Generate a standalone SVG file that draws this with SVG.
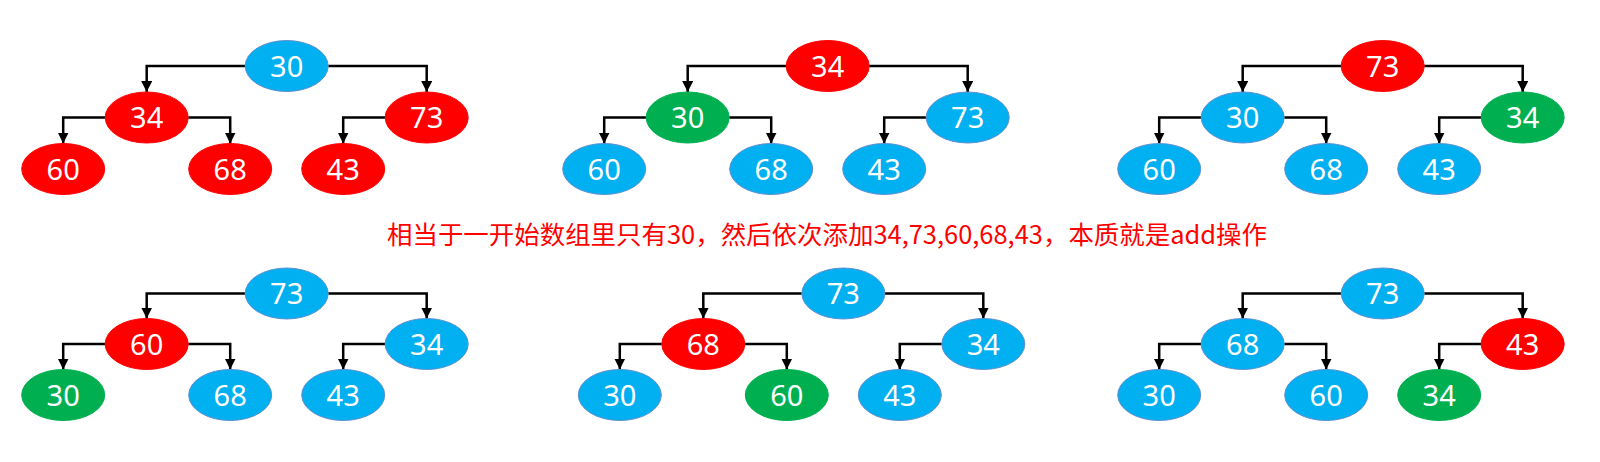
<svg xmlns="http://www.w3.org/2000/svg" width="1600" height="462" viewBox="0 0 1600 462">
<style>
.n ellipse{stroke-width:1}
.blue ellipse{fill:#00B0F0;stroke:#5B8FD0}
.red ellipse{fill:#FF0000;stroke:#FF0000}
.green ellipse{fill:#00B050;stroke:#00B050}
.n text{fill:#FFFFFF;font-family:"Noto Sans","Open Sans","DejaVu Sans",sans-serif;font-size:29px;text-anchor:middle}
.c path{fill:none;stroke:#000000;stroke-width:2.5;marker-end:url(#arr)}
.cap{fill:#FF0000;font-family:"Noto Sans CJK SC","Noto Sans",sans-serif;font-size:25px}
</style>
<defs>
<marker id="arr" markerUnits="userSpaceOnUse" markerWidth="11" markerHeight="11" viewBox="0 0 11 11" refX="11" refY="5.5" orient="auto">
<path d="M0,0 L11,5.5 L0,11 Z" fill="#000000"/>
</marker>
</defs>
<rect width="1600" height="462" fill="#FFFFFF"/>
<g id="connectors" class="c">
<path d="M245.2 66 H146.7 V92"/>
<path d="M328.2 66 H426.7 V92"/>
<path d="M105.2 117.5 H63.2 V143.5"/>
<path d="M188.2 117.5 H230.2 V143.5"/>
<path d="M385.2 117.5 H343.2 V143.5"/>
<path d="M786.2 66 H687.7 V92"/>
<path d="M869.2 66 H967.7 V92"/>
<path d="M646.2 117.5 H604.2 V143.5"/>
<path d="M729.2 117.5 H771.2 V143.5"/>
<path d="M926.2 117.5 H884.2 V143.5"/>
<path d="M1341.2 66 H1242.7 V92"/>
<path d="M1424.2 66 H1522.7 V92"/>
<path d="M1201.2 117.5 H1159.2 V143.5"/>
<path d="M1284.2 117.5 H1326.2 V143.5"/>
<path d="M1481.2 117.5 H1439.2 V143.5"/>
<path d="M245.2 293.5 H146.7 V318.5"/>
<path d="M328.2 293.5 H426.7 V318.5"/>
<path d="M105.2 344 H63.2 V369.5"/>
<path d="M188.2 344 H230.2 V369.5"/>
<path d="M385.2 344 H343.2 V369.5"/>
<path d="M801.8 293.5 H703.3 V318.5"/>
<path d="M884.8 293.5 H983.3 V318.5"/>
<path d="M661.8 344 H619.8 V369.5"/>
<path d="M744.8 344 H786.8 V369.5"/>
<path d="M941.8 344 H899.8 V369.5"/>
<path d="M1341.2 293.5 H1242.7 V318.5"/>
<path d="M1424.2 293.5 H1522.7 V318.5"/>
<path d="M1201.2 344 H1159.2 V369.5"/>
<path d="M1284.2 344 H1326.2 V369.5"/>
<path d="M1481.2 344 H1439.2 V369.5"/>
</g>
<!-- Tree 1 -->
<g id="t1-root" class="n blue"><ellipse cx="286.7" cy="66" rx="41.5" ry="25.5"/><text x="286.7" y="76.5">30</text></g>
<g id="t1-l" class="n red"><ellipse cx="146.7" cy="117.5" rx="41.5" ry="25.5"/><text x="146.7" y="128">34</text></g>
<g id="t1-r" class="n red"><ellipse cx="426.7" cy="117.5" rx="41.5" ry="25.5"/><text x="426.7" y="128">73</text></g>
<g id="t1-ll" class="n red"><ellipse cx="63.2" cy="169" rx="41.5" ry="25.5"/><text x="63.2" y="179.5">60</text></g>
<g id="t1-lr" class="n red"><ellipse cx="230.2" cy="169" rx="41.5" ry="25.5"/><text x="230.2" y="179.5">68</text></g>
<g id="t1-rl" class="n red"><ellipse cx="343.2" cy="169" rx="41.5" ry="25.5"/><text x="343.2" y="179.5">43</text></g>
<!-- Tree 2 -->
<g id="t2-root" class="n red"><ellipse cx="827.7" cy="66" rx="41.5" ry="25.5"/><text x="827.7" y="76.5">34</text></g>
<g id="t2-l" class="n green"><ellipse cx="687.7" cy="117.5" rx="41.5" ry="25.5"/><text x="687.7" y="128">30</text></g>
<g id="t2-r" class="n blue"><ellipse cx="967.7" cy="117.5" rx="41.5" ry="25.5"/><text x="967.7" y="128">73</text></g>
<g id="t2-ll" class="n blue"><ellipse cx="604.2" cy="169" rx="41.5" ry="25.5"/><text x="604.2" y="179.5">60</text></g>
<g id="t2-lr" class="n blue"><ellipse cx="771.2" cy="169" rx="41.5" ry="25.5"/><text x="771.2" y="179.5">68</text></g>
<g id="t2-rl" class="n blue"><ellipse cx="884.2" cy="169" rx="41.5" ry="25.5"/><text x="884.2" y="179.5">43</text></g>
<!-- Tree 3 -->
<g id="t3-root" class="n red"><ellipse cx="1382.7" cy="66" rx="41.5" ry="25.5"/><text x="1382.7" y="76.5">73</text></g>
<g id="t3-l" class="n blue"><ellipse cx="1242.7" cy="117.5" rx="41.5" ry="25.5"/><text x="1242.7" y="128">30</text></g>
<g id="t3-r" class="n green"><ellipse cx="1522.7" cy="117.5" rx="41.5" ry="25.5"/><text x="1522.7" y="128">34</text></g>
<g id="t3-ll" class="n blue"><ellipse cx="1159.2" cy="169" rx="41.5" ry="25.5"/><text x="1159.2" y="179.5">60</text></g>
<g id="t3-lr" class="n blue"><ellipse cx="1326.2" cy="169" rx="41.5" ry="25.5"/><text x="1326.2" y="179.5">68</text></g>
<g id="t3-rl" class="n blue"><ellipse cx="1439.2" cy="169" rx="41.5" ry="25.5"/><text x="1439.2" y="179.5">43</text></g>
<!-- Caption -->
<text class="cap" x="387" y="244" textLength="880" lengthAdjust="spacingAndGlyphs">相当于一开始数组里只有30，然后依次添加34,73,60,68,43，本质就是add操作</text>
<!-- Tree 4 -->
<g id="t4-root" class="n blue"><ellipse cx="286.7" cy="293.5" rx="41.5" ry="25.5"/><text x="286.7" y="304">73</text></g>
<g id="t4-l" class="n red"><ellipse cx="146.7" cy="344" rx="41.5" ry="25.5"/><text x="146.7" y="354.5">60</text></g>
<g id="t4-r" class="n blue"><ellipse cx="426.7" cy="344" rx="41.5" ry="25.5"/><text x="426.7" y="354.5">34</text></g>
<g id="t4-ll" class="n green"><ellipse cx="63.2" cy="395" rx="41.5" ry="25.5"/><text x="63.2" y="405.5">30</text></g>
<g id="t4-lr" class="n blue"><ellipse cx="230.2" cy="395" rx="41.5" ry="25.5"/><text x="230.2" y="405.5">68</text></g>
<g id="t4-rl" class="n blue"><ellipse cx="343.2" cy="395" rx="41.5" ry="25.5"/><text x="343.2" y="405.5">43</text></g>
<!-- Tree 5 -->
<g id="t5-root" class="n blue"><ellipse cx="843.3" cy="293.5" rx="41.5" ry="25.5"/><text x="843.3" y="304">73</text></g>
<g id="t5-l" class="n red"><ellipse cx="703.3" cy="344" rx="41.5" ry="25.5"/><text x="703.3" y="354.5">68</text></g>
<g id="t5-r" class="n blue"><ellipse cx="983.3" cy="344" rx="41.5" ry="25.5"/><text x="983.3" y="354.5">34</text></g>
<g id="t5-ll" class="n blue"><ellipse cx="619.8" cy="395" rx="41.5" ry="25.5"/><text x="619.8" y="405.5">30</text></g>
<g id="t5-lr" class="n green"><ellipse cx="786.8" cy="395" rx="41.5" ry="25.5"/><text x="786.8" y="405.5">60</text></g>
<g id="t5-rl" class="n blue"><ellipse cx="899.8" cy="395" rx="41.5" ry="25.5"/><text x="899.8" y="405.5">43</text></g>
<!-- Tree 6 -->
<g id="t6-root" class="n blue"><ellipse cx="1382.7" cy="293.5" rx="41.5" ry="25.5"/><text x="1382.7" y="304">73</text></g>
<g id="t6-l" class="n blue"><ellipse cx="1242.7" cy="344" rx="41.5" ry="25.5"/><text x="1242.7" y="354.5">68</text></g>
<g id="t6-r" class="n red"><ellipse cx="1522.7" cy="344" rx="41.5" ry="25.5"/><text x="1522.7" y="354.5">43</text></g>
<g id="t6-ll" class="n blue"><ellipse cx="1159.2" cy="395" rx="41.5" ry="25.5"/><text x="1159.2" y="405.5">30</text></g>
<g id="t6-lr" class="n blue"><ellipse cx="1326.2" cy="395" rx="41.5" ry="25.5"/><text x="1326.2" y="405.5">60</text></g>
<g id="t6-rl" class="n green"><ellipse cx="1439.2" cy="395" rx="41.5" ry="25.5"/><text x="1439.2" y="405.5">34</text></g>
</svg>
